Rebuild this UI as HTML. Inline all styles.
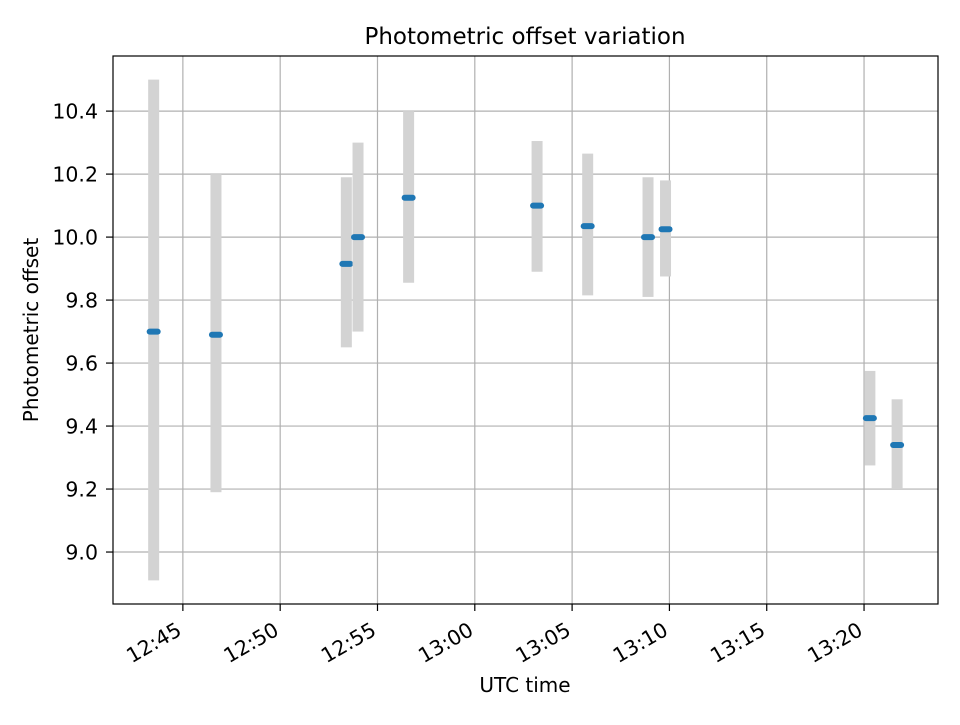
<!DOCTYPE html>
<html><head><meta charset="utf-8"><style>
body{margin:0;background:#fff;}
svg text{font-family:"DejaVu Sans","Liberation Sans",sans-serif;fill:#000;}
</style></head><body>
<svg id="chart" width="960" height="720" xmlns="http://www.w3.org/2000/svg">
<rect width="960" height="720" fill="#fff"/>
<g id="grid"></g>
<g id="bars"></g>
<g id="axes"></g>
<text x="525" y="44" font-size="23" text-anchor="middle">Photometric offset variation</text>
<text x="525" y="692" font-size="20" text-anchor="middle">UTC time</text>
<text transform="translate(38,330) rotate(-90)" font-size="20" text-anchor="middle">Photometric offset</text>
</svg>
<script>
const times = ["12:43.5","12:46.7","12:53.4","12:54.0","12:56.6","13:03.2","13:05.8","13:08.9","13:09.8","13:20.3","13:21.7"];
const offsets = [9.70,9.69,9.915,10.0,10.125,10.10,10.035,10.0,10.025,9.425,9.34];
const errLow = [8.91,9.19,9.65,9.70,9.855,9.89,9.815,9.81,9.875,9.275,9.20];
const errHigh = [10.50,10.20,10.19,10.30,10.40,10.305,10.265,10.19,10.18,9.575,9.485];
const yTicks = [9.0,9.2,9.4,9.6,9.8,10.0,10.2,10.4];
const xTickLabels = ["12:45","12:50","12:55","13:00","13:05","13:10","13:15","13:20"];

const L=113,R=938,T=56,B=604;
const xMin=41.41,xMax=83.80,yMin=8.835,yMax=10.575;
function mins(s){const [h,m]=s.split(':');return (parseInt(h)-12)*60+parseFloat(m);}
function xs(v){return L+(v-xMin)/(xMax-xMin)*(R-L);}
function ys(v){return B-(v-yMin)/(yMax-yMin)*(B-T);}
const NS="http://www.w3.org/2000/svg";
function mk(tag,attrs,parent){const e=document.createElementNS(NS,tag);for(const k in attrs)e.setAttribute(k,attrs[k]);document.getElementById(parent).appendChild(e);return e;}

yTicks.forEach(t=>{
  const y=ys(t);
  const g=mk('line',{x1:L,x2:R,y1:y,y2:y,stroke:'#b0b0b0','stroke-width':1.2},'grid');
  
  
  mk('line',{x1:L-7,x2:L,y1:y,y2:y,stroke:'#000','stroke-width':1.2},'axes');
  const tx=mk('text',{x:L-15,y:y+7.5,'font-size':20.5,'text-anchor':'end'},'axes');
  tx.textContent=t.toFixed(1);
  
  
});
xTickLabels.forEach(t=>{
  const x=xs(mins(t));
  const g=mk('line',{x1:x,x2:x,y1:T,y2:B,stroke:'#b0b0b0','stroke-width':1.2},'grid');
  
  
  mk('line',{x1:x,x2:x,y1:B,y2:B+7,stroke:'#000','stroke-width':1.2},'axes');
  const tx=mk('text',{transform:`translate(${x},${B+30}) rotate(-30)`,'font-size':20.5,'text-anchor':'end'},'axes');
  tx.textContent=t;
  
  
});
const fr=mk('rect',{x:L,y:T,width:R-L,height:B-T,fill:'none',stroke:'#000','stroke-width':1.2},'axes');



times.forEach((t,i)=>{
  const x=xs(mins(t));
  const e=mk('rect',{x:x-5.5,y:ys(errHigh[i]),width:11,height:ys(errLow[i])-ys(errHigh[i]),fill:'#d3d3d3'},'bars');
  
  
  const y=ys(offsets[i]);
  const m=mk('line',{x1:x-4,x2:x+4,y1:y,y2:y,stroke:'#1f77b4','stroke-width':6,'stroke-linecap':'round'},'bars');
  
  
});
</script>
</body></html>
